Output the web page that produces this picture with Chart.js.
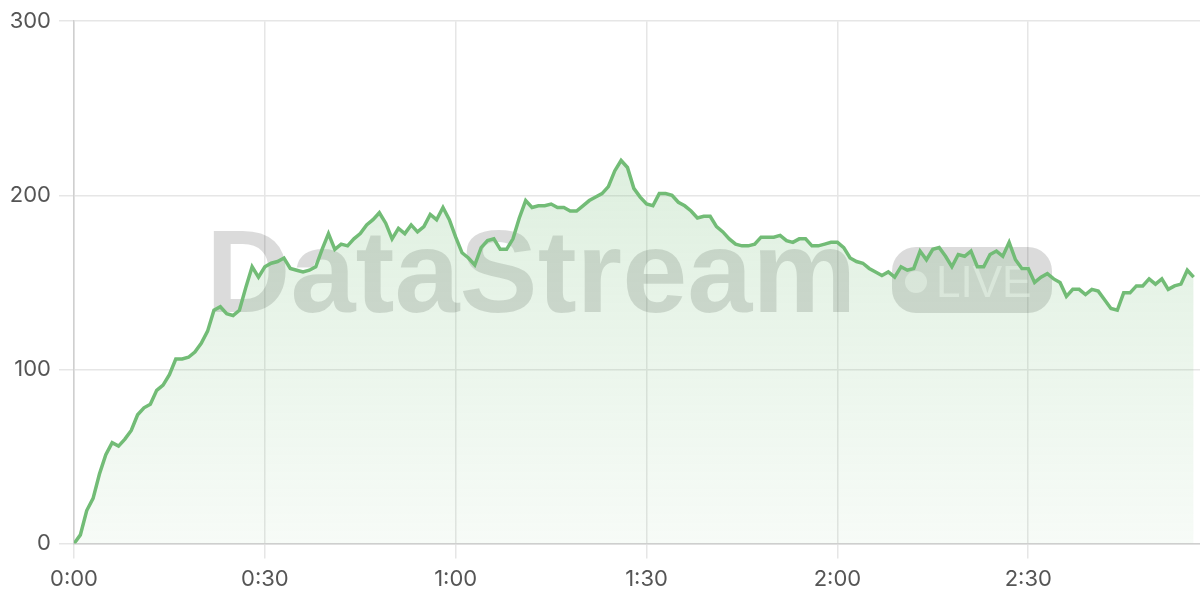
<!DOCTYPE html>
<html>
<head>
<meta charset="utf-8">
<script src="https://cdn.jsdelivr.net/npm/chart.js@4.4.1/dist/chart.umd.min.js"></script>
<style>
  html, body { margin: 0; padding: 0; background: #fff; }
  #wrap { width: 1200px; height: 600px; }
</style>
</head>
<body>
<div id="wrap"><canvas id="myChart"></canvas></div>
<script>
// viewers per minute of the stream
const values = [
  0, 5, 19, 26, 40, 51, 58, 56, 60, 65,
  74, 78, 80, 88, 91, 97, 106, 106, 107, 110,
  115, 122, 134, 136, 132, 131, 134, 147, 159, 153,
  159, 161, 162, 164, 158, 157, 156, 157, 159, 169,
  178, 169, 172, 171, 175, 178, 183, 186, 190, 184,
  175, 181, 178, 183, 179, 182, 189, 186, 193, 186,
  176, 167, 164, 160, 170, 174, 175, 169, 169, 175,
  187, 197, 193, 194, 194, 195, 193, 193, 191, 191,
  194, 197, 199, 201, 205, 214, 220, 216, 204, 199,
  195, 194, 201, 201, 200, 196, 194, 191, 187, 188,
  188, 182, 179, 175, 172, 171, 171, 172, 176, 176,
  176, 177, 174, 173, 175, 175, 171, 171, 172, 173,
  173, 170, 164, 162, 161, 158, 156, 154, 156, 153,
  159, 157, 158, 168, 163, 169, 170, 165, 159, 166,
  165, 168, 159, 159, 166, 168, 165, 173, 163, 158,
  158, 150, 153, 155, 152, 150, 142, 146, 146, 143,
  146, 145, 140, 135, 134, 144, 144, 148, 148, 152,
  149, 152, 146, 148, 149, 157, 153
];
// minute index of each sample
const minutes = values.map((v, i) => i);

const yTicks = [0, 100, 200, 300];
const xTicks = [0, 30, 60, 90, 120, 150];

const fmt = (m) => Math.floor(m / 60) + ':' + String(m % 60).padStart(2, '0');

const watermark = {
  id: 'watermark',
  beforeDatasetsDraw(chart) {
    const c = chart.ctx;
    c.save();
    c.font = 'bold 117px "Liberation Sans", Arial, sans-serif';
    c.fillStyle = 'rgba(0,0,0,0.14)';
    c.textBaseline = 'alphabetic';
    c.fillText('DataStream', 206, 312);
    // LIVE badge
    c.fillStyle = 'rgba(0,0,0,0.14)';
    c.beginPath();
    c.roundRect(892, 247, 160, 66, 24);
    c.fill();
    c.fillStyle = 'rgba(255,255,255,0.55)';
    c.beginPath();
    c.arc(916, 282, 11, 0, Math.PI * 2);
    c.fill();
    c.font = '44px "Liberation Sans", Arial, sans-serif';
    c.fillText('LIVE', 936, 297);
    c.restore();
  }
};

const ctx = document.getElementById('myChart').getContext('2d');

const tickFont = { size: 22, family: 'Inter' };

const myChart = new Chart(ctx, {
  type: 'line',
  data: {
    labels: minutes,
    datasets: [{
      label: 'Viewers',
      data: values,
      borderColor: '#72bc76',
      borderWidth: 3.5,
      pointRadius: 0,
      tension: 0,
      fill: 'origin',
      backgroundColor: (context) => {
        const area = context.chart.chartArea;
        if (!area) return 'rgba(116,189,120,0.15)';
        const g = context.chart.ctx.createLinearGradient(0, area.top, 0, area.bottom);
        g.addColorStop(0, 'rgba(116,189,120,0.30)');
        g.addColorStop(1, 'rgba(116,189,120,0.06)');
        return g;
      }
    }]
  },
  options: {
    responsive: true,
    maintainAspectRatio: false,
    animation: false,
    layout: { padding: { top: 6, right: 0, bottom: 0, left: 0 } },
    plugins: {
      legend: { display: false },
      tooltip: { enabled: false }
    },
    scales: {
      x: {
        type: 'linear',
        min: 0,
        max: 177,
        border: { color: '#cfcfcf', width: 1.5 },
        grid: { color: '#e6e6e6', lineWidth: 1.5, tickLength: 15 },
        afterBuildTicks: (axis) => { axis.ticks = xTicks.map(v => ({ value: v })); },
        ticks: {
          color: '#555',
          font: tickFont,
          padding: 7.5,
          maxRotation: 0,
          callback: (v) => fmt(v)
        }
      },
      y: {
        min: 0,
        max: 300,
        border: { color: '#cfcfcf', width: 1.5 },
        grid: { color: '#e6e6e6', lineWidth: 1.5, tickLength: 15 },
        afterBuildTicks: (axis) => { axis.ticks = yTicks.map(v => ({ value: v })); },
        afterFit: (axis) => { axis.width = 74; },
        ticks: {
          color: '#555',
          font: tickFont,
          padding: 8
        }
      }
    }
  },
  plugins: [watermark]
});
</script>
</body>
</html>
